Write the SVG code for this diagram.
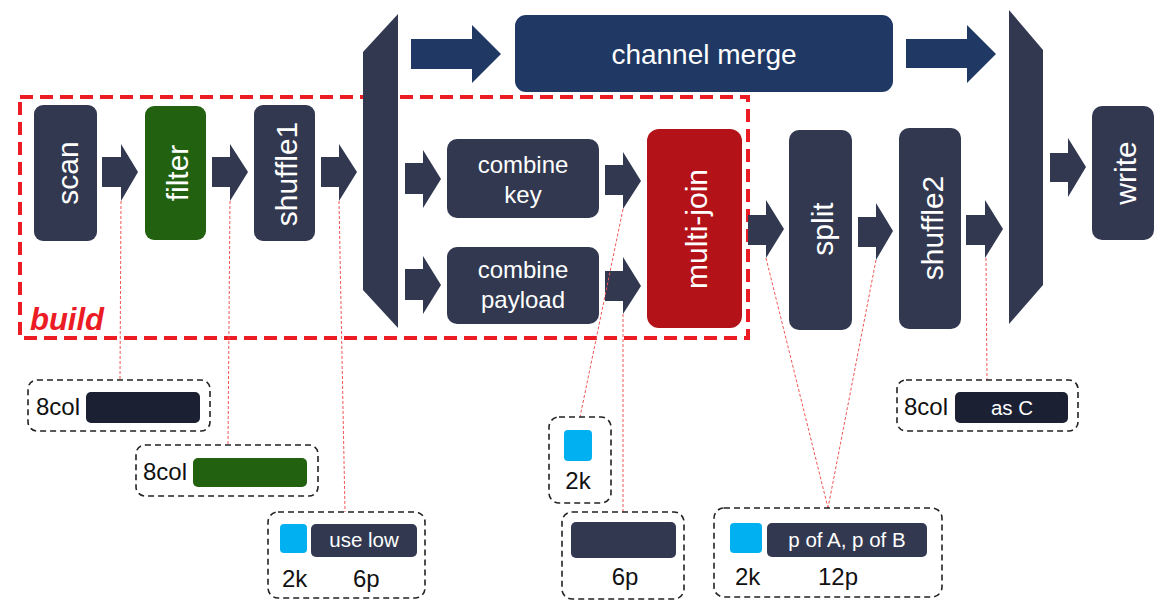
<svg xmlns="http://www.w3.org/2000/svg" width="1166" height="613" viewBox="0 0 1166 613">
<style>
  .node{fill:#313850}
  .vt{font-family:"Liberation Sans",Arial,sans-serif;font-size:30px;fill:#ffffff;text-anchor:middle}
  .ht{font-family:"Liberation Sans",Arial,sans-serif;font-size:24px;fill:#ffffff;text-anchor:middle}
  .arr{fill:#313850}
  .barr{fill:#1f3864}
  .dot{stroke:#f25555;stroke-width:1;stroke-dasharray:3 2;fill:none}
  .call{fill:none;stroke:#222;stroke-width:1.6;stroke-dasharray:6 4}
  .lbl{font-family:"Liberation Sans",Arial,sans-serif;font-size:24px;fill:#111}
  .wl{font-family:"Liberation Sans",Arial,sans-serif;font-size:20.5px;fill:#ffffff;text-anchor:middle}
</style>
<rect width="1166" height="613" fill="#ffffff"/>

<g id="build-region">
  <rect x="20" y="97" width="728" height="241" fill="none" stroke="#ec1c24" stroke-width="4" stroke-dasharray="13 7"/>
  <text x="30" y="330" font-family="'Liberation Sans',Arial,sans-serif" font-size="31" font-weight="bold" font-style="italic" fill="#ec1c24">build</text>
</g>

<g id="splitter-left"><polygon points="363,52 398,14 398,328 363,290" fill="#313850"/></g>
<g id="splitter-right"><polygon points="1009,10 1043,50 1043,285 1009,324" fill="#313850"/></g>

<g id="connectors">
  <polygon class="arr" points="102,157 121,157 121,144 138,172 121,201 121,187 102,187"/>
  <polygon class="arr" points="212,157 230,157 230,144 248,172 230,201 230,187 212,187"/>
  <polygon class="arr" points="321,157 339,157 339,144 357,172 339,201 339,187 321,187"/>
  <polygon class="arr" points="405,163 423,163 423,150 441,179 423,208 423,194 405,194"/>
  <polygon class="arr" points="405,269 423,269 423,256 441,285 423,314 423,300 405,300"/>
  <polygon class="arr" points="605,165 623,165 623,152 641,181 623,209 623,195 605,195"/>
  <polygon class="arr" points="605,271 623,271 623,257 641,286 623,314 623,301 605,301"/>
  <polygon class="arr" points="748,215 766,215 766,200 784,229 766,258 766,245 748,245"/>
  <polygon class="arr" points="858,217 876,217 876,203 893,231 876,260 876,247 858,247"/>
  <polygon class="arr" points="966,215 985,215 985,200 1003,229 985,258 985,245 966,245"/>
  <polygon class="arr" points="1050,153 1068,153 1068,138 1086,167 1068,197 1068,182 1050,182"/>
  <polygon class="barr" points="411,39 472,39 472,25 501,54 472,83 472,69 411,69"/>
  <polygon class="barr" points="906,39 967,39 967,25 996,54 967,83 967,68 906,68"/>
  <line class="dot" x1="121" y1="201" x2="120" y2="380"/>
  <line class="dot" x1="230" y1="201" x2="228" y2="445"/>
  <line class="dot" x1="339" y1="201" x2="345" y2="512"/>
  <line class="dot" x1="623" y1="209" x2="580" y2="417"/>
  <line class="dot" x1="623" y1="314" x2="623" y2="512"/>
  <line class="dot" x1="766" y1="258" x2="828" y2="508"/>
  <line class="dot" x1="876" y1="260" x2="828" y2="508"/>
  <line class="dot" x1="986" y1="258" x2="987" y2="380"/>
</g>

<g id="scan"><rect class="node" x="34" y="105" width="63" height="136" rx="9"/>
  <text class="vt" transform="translate(78,173) rotate(-90)">scan</text></g>
<g id="filter"><rect x="145" y="106" width="61" height="134" rx="9" fill="#226110"/>
  <text class="vt" transform="translate(188,173) rotate(-90)">filter</text></g>
<g id="shuffle1"><rect class="node" x="254" y="105" width="61" height="136" rx="9"/>
  <text class="vt" transform="translate(297,174) rotate(-90)">shuffle1</text></g>
<g id="channel-merge"><rect x="515" y="15" width="378" height="77" rx="11" fill="#1f3864"/>
  <text x="704" y="64" font-family="'Liberation Sans',Arial,sans-serif" font-size="28" fill="#ffffff" text-anchor="middle">channel merge</text></g>
<g id="combine-key"><rect class="node" x="447" y="139" width="152" height="79" rx="10"/>
  <text class="ht" x="523" y="173">combine</text><text class="ht" x="523" y="203">key</text></g>
<g id="combine-payload"><rect class="node" x="447" y="247" width="152" height="77" rx="10"/>
  <text class="ht" x="523" y="278">combine</text><text class="ht" x="523" y="308">payload</text></g>
<g id="multi-join"><rect x="647" y="129" width="95" height="199" rx="12" fill="#b31218"/>
  <text class="vt" transform="translate(707,229) rotate(-90)">multi-join</text></g>
<g id="split"><rect class="node" x="789" y="130" width="63" height="200" rx="10"/>
  <text class="vt" transform="translate(833,229) rotate(-90)">split</text></g>
<g id="shuffle2"><rect class="node" x="899" y="128" width="62" height="201" rx="10"/>
  <text class="vt" transform="translate(943,228) rotate(-90)">shuffle2</text></g>
<g id="write"><rect class="node" x="1092" y="106" width="62" height="134" rx="10"/>
  <text class="vt" transform="translate(1136,173) rotate(-90)">write</text></g>

<g id="callout-scan"><rect class="call" x="28" y="380" width="182" height="51" rx="9"/>
  <text class="lbl" x="36" y="415">8col</text>
  <rect x="86" y="392" width="114" height="31" rx="5" fill="#1b2033"/></g>
<g id="callout-filter"><rect class="call" x="136" y="445" width="182" height="51" rx="9"/>
  <text class="lbl" x="143" y="480">8col</text>
  <rect x="193" y="458" width="114" height="29" rx="5" fill="#226110"/></g>
<g id="callout-shuffle1"><rect class="call" x="268" y="512" width="157" height="86" rx="10"/>
  <rect x="280" y="524" width="27" height="29" rx="4" fill="#00b0f0"/>
  <rect x="311" y="524" width="106" height="33" rx="5" fill="#313850"/>
  <text class="wl" x="364" y="547">use low</text>
  <text class="lbl" x="282" y="587">2k</text><text class="lbl" x="353" y="587">6p</text></g>
<g id="callout-key"><rect class="call" x="549" y="417" width="62" height="86" rx="10"/>
  <rect x="564" y="430" width="28" height="31" rx="4" fill="#00b0f0"/>
  <text class="lbl" x="578" y="489" text-anchor="middle">2k</text></g>
<g id="callout-payload"><rect class="call" x="562" y="512" width="122" height="87" rx="10"/>
  <rect x="571" y="522" width="105" height="36" rx="5" fill="#313850"/>
  <text class="lbl" x="625" y="585" text-anchor="middle">6p</text></g>
<g id="callout-split"><rect class="call" x="714" y="508" width="228" height="89" rx="10"/>
  <rect x="730" y="523" width="32" height="30" rx="4" fill="#00b0f0"/>
  <rect x="767" y="523" width="160" height="34" rx="5" fill="#313850"/>
  <text class="wl" x="847" y="547">p of A, p of B</text>
  <text class="lbl" x="735" y="585">2k</text><text class="lbl" x="818" y="585">12p</text></g>
<g id="callout-shuffle2"><rect class="call" x="897" y="380" width="181" height="51" rx="9"/>
  <text class="lbl" x="904" y="415">8col</text>
  <rect x="955" y="392" width="113" height="31" rx="5" fill="#1b2033"/>
  <text class="wl" x="1012" y="415">as C</text></g>
</svg>
